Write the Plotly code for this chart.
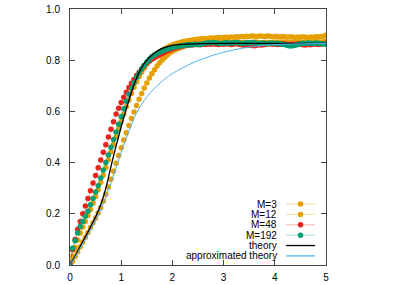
import plotly.graph_objects as go

# time grid of the simulated series (step 0.05)
t = [round(i * 0.05, 2) for i in range(101)]

m3 = [0.000, 0.015, 0.033, 0.052, 0.071, 0.090, 0.108, 0.127, 0.146, 0.165,
      0.184, 0.203, 0.224, 0.249, 0.276, 0.305, 0.335, 0.366, 0.397, 0.428,
      0.458, 0.488, 0.517, 0.545, 0.572, 0.598, 0.623, 0.647, 0.670, 0.691,
      0.711, 0.730, 0.747, 0.763, 0.777, 0.790, 0.801, 0.811, 0.820, 0.828,
      0.835, 0.840, 0.845, 0.849, 0.853, 0.856, 0.859, 0.861, 0.863, 0.864,
      0.866, 0.867, 0.868, 0.867, 0.869, 0.868, 0.870, 0.869, 0.868, 0.870,
      0.869, 0.871, 0.870, 0.868, 0.869, 0.871, 0.870, 0.868, 0.869, 0.870,
      0.868, 0.869, 0.871, 0.870, 0.868, 0.867, 0.869, 0.870, 0.868, 0.869,
      0.871, 0.870, 0.869, 0.871, 0.870, 0.868, 0.869, 0.870, 0.872, 0.871,
      0.869, 0.870, 0.868, 0.869, 0.871, 0.870, 0.872, 0.871, 0.870, 0.872,
      0.873]

m12 = [0.000, 0.035, 0.068, 0.098, 0.125, 0.148, 0.170, 0.193, 0.217, 0.242,
       0.268, 0.294, 0.322, 0.351, 0.381, 0.411, 0.441, 0.471, 0.501, 0.531,
       0.561, 0.590, 0.618, 0.645, 0.670, 0.694, 0.716, 0.736, 0.754, 0.770,
       0.785, 0.798, 0.809, 0.818, 0.826, 0.833, 0.839, 0.845, 0.850, 0.855,
       0.859, 0.863, 0.866, 0.869, 0.872, 0.874, 0.876, 0.878, 0.879, 0.881,
       0.882, 0.884, 0.885, 0.884, 0.886, 0.887, 0.886, 0.888, 0.889, 0.887,
       0.889, 0.890, 0.889, 0.891, 0.890, 0.892, 0.891, 0.893, 0.892, 0.894,
       0.893, 0.895, 0.894, 0.893, 0.895, 0.894, 0.893, 0.895, 0.894, 0.892,
       0.894, 0.893, 0.891, 0.893, 0.892, 0.890, 0.892, 0.891, 0.889, 0.891,
       0.890, 0.892, 0.890, 0.889, 0.891, 0.890, 0.892, 0.891, 0.893, 0.894,
       0.897]

m48 = [0.000, 0.060, 0.100, 0.140, 0.170, 0.200, 0.230, 0.260, 0.290, 0.320,
       0.350, 0.380, 0.410, 0.440, 0.470, 0.500, 0.530, 0.560, 0.590, 0.612,
       0.635, 0.655, 0.675, 0.693, 0.710, 0.725, 0.740, 0.753, 0.766, 0.778,
       0.788, 0.797, 0.804, 0.810, 0.815, 0.820, 0.826, 0.831, 0.836, 0.840,
       0.845, 0.848, 0.851, 0.853, 0.855, 0.857, 0.858, 0.860, 0.859, 0.861,
       0.862, 0.860, 0.862, 0.861, 0.863, 0.862, 0.864, 0.862, 0.861, 0.863,
       0.862, 0.864, 0.863, 0.861, 0.863, 0.864, 0.862, 0.860, 0.858, 0.857,
       0.859, 0.857, 0.856, 0.858, 0.860, 0.859, 0.861, 0.863, 0.864, 0.862,
       0.863, 0.861, 0.862, 0.864, 0.863, 0.861, 0.860, 0.862, 0.861, 0.863,
       0.862, 0.860, 0.859, 0.861, 0.860, 0.862, 0.863, 0.861, 0.862, 0.864,
       0.866]

m192 = [0.000, 0.065, 0.095, 0.125, 0.150, 0.170, 0.190, 0.210, 0.235, 0.260,
        0.285, 0.310, 0.340, 0.370, 0.400, 0.430, 0.460, 0.490, 0.520, 0.550,
        0.580, 0.610, 0.640, 0.667, 0.690, 0.712, 0.732, 0.750, 0.766, 0.780,
        0.793, 0.804, 0.813, 0.820, 0.826, 0.831, 0.836, 0.840, 0.844, 0.847,
        0.850, 0.852, 0.854, 0.855, 0.857, 0.858, 0.860, 0.859, 0.861, 0.862,
        0.860, 0.862, 0.864, 0.866, 0.868, 0.867, 0.869, 0.868, 0.866, 0.865,
        0.866, 0.868, 0.867, 0.866, 0.868, 0.869, 0.867, 0.865, 0.866, 0.868,
        0.867, 0.869, 0.868, 0.866, 0.865, 0.867, 0.866, 0.864, 0.866, 0.867,
        0.865, 0.866, 0.864, 0.862, 0.860, 0.857, 0.855, 0.856, 0.858, 0.861,
        0.864, 0.866, 0.865, 0.867, 0.866, 0.865, 0.867, 0.866, 0.864, 0.863,
        0.862]

theory_x = [0, 0.1, 0.2, 0.3, 0.4, 0.5, 0.6, 0.7, 0.8, 0.9, 1.0, 1.1, 1.2, 1.3,
            1.4, 1.5, 1.6, 1.7, 1.8, 1.9, 2.0, 2.2, 2.4, 2.6, 3.0, 4.0, 5.0]
theory_y = [0, 0.035, 0.073, 0.110, 0.148, 0.188, 0.235, 0.300, 0.385, 0.465,
            0.540, 0.610, 0.675, 0.730, 0.772, 0.800, 0.820, 0.835, 0.846,
            0.853, 0.858, 0.862, 0.864, 0.865, 0.866, 0.866, 0.866]

approx_x = [0, 0.1, 0.2, 0.3, 0.4, 0.5, 0.6, 0.7, 0.8, 0.9, 1.0, 1.1, 1.2, 1.3,
            1.4, 1.5, 1.6, 1.7, 1.8, 1.9, 2.0, 2.2, 2.4, 2.6, 2.8, 3.0, 3.2,
            3.4, 3.6, 3.8, 4.0, 4.5, 5.0]
approx_y = [0, 0.030, 0.065, 0.100, 0.137, 0.175, 0.215, 0.265, 0.320, 0.380,
            0.440, 0.495, 0.548, 0.595, 0.628, 0.656, 0.680, 0.700, 0.718,
            0.734, 0.748, 0.770, 0.790, 0.806, 0.820, 0.831, 0.840, 0.848,
            0.854, 0.858, 0.861, 0.864, 0.865]

x_ticks = [0, 1, 2, 3, 4, 5]
y_ticks = [0.0, 0.2, 0.4, 0.6, 0.8, 1.0]
y_tick_labels = ["0.0", "0.2", "0.4", "0.6", "0.8", "1.0"]

FONT = "Liberation Sans, Arial, sans-serif"

series = [
    ("M=3", m3, "#E69F00", "rgba(230,159,0,0.3)"),
    ("M=12", m12, "#E69F00", "rgba(230,159,0,0.3)"),
    ("M=48", m48, "#E8231C", "rgba(232,35,28,0.3)"),
    ("M=192", m192, "#009E73", "rgba(0,158,115,0.3)"),
]
curves = [
    ("theory", theory_x, theory_y, "black", 1.3),
    ("approximated theory", approx_x, approx_y, "#56B4E9", 1.0),
]

fig = go.Figure()
for name, ys, col, lcol in series:
    fig.add_trace(go.Scatter(
        x=t, y=ys, name=name, mode="lines+markers",
        line=dict(color=lcol, width=1),
        marker=dict(color=col, size=5.5, line=dict(width=0)),
        showlegend=False,
    ))
for name, xs, ys, col, w in curves:
    fig.add_trace(go.Scatter(x=xs, y=ys, name=name, mode="lines",
                             line=dict(color=col, width=w, shape="spline"),
                             showlegend=False))

# gnuplot-style key: right-aligned text, sample to its right
key_text_x = 0.818
key_line_x0, key_line_x1 = 0.844, 0.957
key_top_y, key_step = 0.238, 0.0405
key_entries = ([(n, c, lc, True) for n, _, c, lc in series] +
               [(n, c, c, False) for n, _, _, c, _ in curves])
shapes, annotations = [], []
for i, (name, col, lcol, has_marker) in enumerate(key_entries):
    yk = key_top_y - i * key_step
    annotations.append(dict(
        x=key_text_x, y=yk, xref="paper", yref="paper", text=name,
        showarrow=False, xanchor="right", yanchor="middle",
        font=dict(family=FONT, size=10, color="black")))
    shapes.append(dict(type="line", xref="paper", yref="paper",
                       x0=key_line_x0, x1=key_line_x1, y0=yk, y1=yk,
                       line=dict(color=lcol, width=1.2 if has_marker else 1.3)))
    if has_marker:
        xm = (key_line_x0 + key_line_x1) / 2
        shapes.append(dict(type="circle", xref="paper", yref="paper",
                           xsizemode="pixel", ysizemode="pixel",
                           xanchor=xm, yanchor=yk,
                           x0=-2.75, x1=2.75, y0=-2.75, y1=2.75,
                           fillcolor=col, line=dict(width=0)))

axis_common = dict(
    showgrid=False, zeroline=False, showline=True, linecolor="#444",
    linewidth=1, mirror="ticks", ticks="inside", ticklen=5, tickcolor="#444",
    automargin=False,
    tickfont=dict(family=FONT, size=10, color="black"),
)

fig.update_xaxes(range=[0, 5], tickvals=x_ticks, ticklabelstandoff=3,
                 **axis_common)
fig.update_yaxes(range=[0, 1], tickvals=y_ticks, ticktext=y_tick_labels,
                 ticklabelstandoff=7, **axis_common)

fig.update_layout(
    width=409, height=285,
    margin=dict(l=70, r=83, t=9, b=20, autoexpand=False),
    plot_bgcolor="white", paper_bgcolor="white",
    font=dict(family=FONT, size=10, color="black"),
    showlegend=False,
    shapes=shapes, annotations=annotations,
)

fig.write_html(
    "out.html",
    config={"displayModeBar": False, "staticPlot": True},
    post_script="document.body.style.margin='0';"
                "document.body.style.padding='0';"
                "document.body.style.overflow='hidden';",
)
